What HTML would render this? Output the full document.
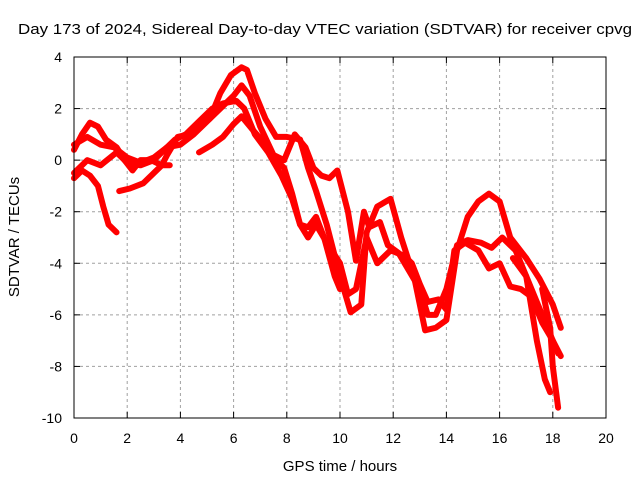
<!DOCTYPE html>
<html><head><meta charset="utf-8"><style>
body{margin:0;background:#fff;}
svg{display:block;font-family:"Liberation Sans",sans-serif;}
</style></head><body>
<svg id="chart" width="640" height="480">
<text x="18" y="34" font-size="15" textLength="614" lengthAdjust="spacingAndGlyphs">Day 173 of 2024, Sidereal Day-to-day VTEC variation (SDTVAR) for receiver cpvg</text>
<text x="340" y="471" font-size="15" text-anchor="middle">GPS time / hours</text>
<text transform="translate(19,237) rotate(-90)" font-size="15" text-anchor="middle">SDTVAR / TECUs</text>
<g id="grid"></g><g id="ticks"></g><g id="series"></g>
<rect x="74" y="57" width="532" height="361" fill="none" stroke="#000" stroke-width="1"/>
</svg>
<script>
const xTicks=[0,2,4,6,8,10,12,14,16,18,20];
const yTicks=[4,2,0,-2,-4,-6,-8,-10];
const track1=[[0,0.4],[0.3,1.0],[0.6,1.45],[0.9,1.3],[1.2,0.8],[1.6,0.5],[1.9,0.0],[2.2,-0.4],[2.5,0.0],[2.9,0.0],[3.3,-0.2],[3.5,0.2],[3.9,0.9],[4.3,1.0],[4.7,1.3],[5.1,1.6],[5.5,2.6],[5.9,3.3],[6.3,3.6],[6.5,3.5],[6.8,2.6],[7.2,1.6],[7.6,0.9],[8.0,0.9],[8.5,0.8],[8.8,-0.3],[9.1,-1.2],[9.5,-2.5],[10.0,-4.5],[10.4,-5.9],[10.8,-5.6],[11.0,-2.8],[11.4,-1.8],[11.9,-1.5],[12.3,-3.0],[12.8,-4.6],[13.2,-6.6],[13.6,-6.5],[14.0,-6.2],[14.4,-3.5],[14.8,-2.2],[15.2,-1.6],[15.6,-1.3],[16.0,-1.6],[16.4,-3.0],[17.0,-3.8],[17.5,-4.6],[18.0,-5.6],[18.3,-6.5]];
const track2=[[0,0.6],[0.5,0.9],[1.0,0.6],[1.5,0.5],[2.0,0.1],[2.5,-0.1],[3.0,0.1],[3.5,0.5],[4.0,0.6],[4.5,1.0],[5.0,1.5],[5.5,2.0],[6.0,2.5],[6.3,2.9],[6.6,2.5],[7.0,1.3],[7.5,0.2],[7.9,0.0],[8.3,1.0],[8.7,0.5],[9.0,-0.3],[9.3,-0.6],[9.6,-0.7],[9.9,-0.4],[10.3,-2.0],[10.6,-3.9],[10.9,-2.0],[11.1,-2.6],[11.5,-2.4],[11.8,-3.3],[12.2,-3.6],[12.6,-4.3],[13.0,-5.0],[13.3,-6.0],[13.6,-6.0],[14.0,-5.0],[14.4,-3.3],[14.8,-3.1],[15.3,-3.2],[15.7,-3.4],[16.1,-3.0],[16.6,-3.5],[17.0,-4.5],[17.4,-5.5],[17.8,-6.5],[18.2,-7.5]];
const track3=[[0,-0.5],[0.5,0.0],[1.0,-0.2],[1.6,0.3],[2.0,-0.1],[2.5,-0.2],[3.0,0.0],[3.4,0.4],[3.8,0.8],[4.2,1.0],[4.7,1.5],[5.2,2.0],[5.6,2.2],[6.1,2.3],[6.4,2.0],[6.8,1.0],[7.3,0.3],[7.8,-0.6],[8.2,-1.5],[8.5,-2.5],[8.8,-3.0],[9.1,-2.5],[9.5,-3.2],[10.0,-4.0],[10.3,-5.2],[10.6,-5.0],[11.0,-3.0],[11.4,-4.0],[11.9,-3.5],[12.4,-3.7],[12.7,-4.0],[13.0,-4.8],[13.3,-5.5],[13.7,-5.4],[14.0,-5.8],[14.3,-3.5],[14.7,-3.2],[15.2,-3.5],[15.6,-4.2],[16.0,-4.0],[16.4,-4.9],[16.8,-5.0],[17.2,-5.3],[17.6,-6.3],[18.0,-7.0],[18.3,-7.6]];
const track4=[[0,-0.7],[0.3,-0.4],[0.6,-0.6],[0.9,-1.0],[1.1,-1.8],[1.3,-2.5],[1.6,-2.8]];
const track5=[[1.7,-1.2],[2.1,-1.1],[2.6,-0.9],[3.0,-0.5],[3.3,-0.2],[3.6,-0.2]];
const track6=[[4.7,0.3],[5.2,0.6],[5.6,0.9],[6.0,1.4],[6.3,1.7],[6.7,1.2],[7.2,0.6],[7.6,0.0],[7.9,-0.3],[8.2,-1.3],[8.5,-2.5],[8.8,-2.6],[9.1,-2.2],[9.4,-3.0],[9.8,-4.5],[10.0,-5.0]];
const track7=[[16.5,-3.8],[17.0,-4.5],[17.4,-7.0],[17.7,-8.5],[17.9,-9.0]];
const track8=[[17.6,-5.0],[17.9,-6.5],[18.0,-8.0],[18.2,-9.6]];
const tracks=[track1,track2,track3,track4,track5,track6,track7,track8];
const NS='http://www.w3.org/2000/svg';
function sx(v){return 74+(v-0)*(532/20);}
function sy(v){return 57+(4-v)*(361/14);}
function mk(tag,attrs,parent){const e=document.createElementNS(NS,tag);for(const k in attrs)e.setAttribute(k,attrs[k]);parent.appendChild(e);return e;}
const grid=document.getElementById('grid'),ticks=document.getElementById('ticks'),series=document.getElementById('series');
xTicks.forEach(t=>{const x=sx(t);
 if(t>0&&t<20){const g=mk('line',{x1:x,x2:x,y1:57,y2:418,stroke:'#a0a0a0','stroke-dasharray':'3,3'},grid);
 
 }
 mk('line',{x1:x,x2:x,y1:418,y2:412,stroke:'#000'},ticks);
 mk('line',{x1:x,x2:x,y1:57,y2:63,stroke:'#000'},ticks);
 const l=mk('text',{x:x,y:443,'font-size':14,'text-anchor':'middle'},ticks);l.textContent=t;
 
 
});
yTicks.forEach(t=>{const y=sy(t);
 if(t<4&&t>-10){const g=mk('line',{x1:74,x2:606,y1:y,y2:y,stroke:'#a0a0a0','stroke-dasharray':'3,3'},grid);
 
 }
 mk('line',{x1:74,x2:80,y1:y,y2:y,stroke:'#000'},ticks);
 mk('line',{x1:606,x2:600,y1:y,y2:y,stroke:'#000'},ticks);
 const l=mk('text',{x:62,y:y+5,'font-size':14,'text-anchor':'end'},ticks);l.textContent=t;
 
 
});
tracks.forEach((tr,i)=>{
 const p=mk('polyline',{points:tr.map(d=>sx(d[0])+','+sy(d[1])).join(' '),fill:'none',stroke:'#ff0000','stroke-width':6,'stroke-linejoin':'round','stroke-linecap':'round'},series);
 
 
});
</script>
</body></html>
